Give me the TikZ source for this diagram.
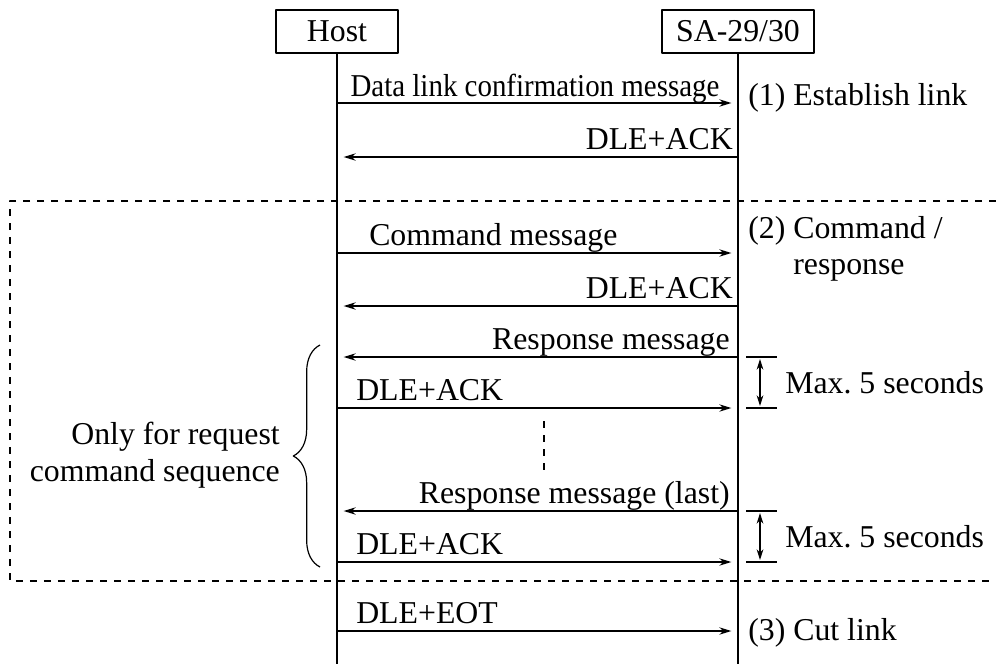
\documentclass[tikz,border=0pt]{standalone}
\usepackage{graphicx}
\usepackage{fontspec}
\setmainfont{Liberation Serif}
\usetikzlibrary{arrows.meta,decorations.pathreplacing}
\begin{document}
\begin{tikzpicture}[x=0.75pt,y=-0.75pt,line join=round,font=\fontsize{23.85}{27.5}\selectfont,
	party/.style={draw,line width=1.1pt,minimum height=32pt,inner sep=0pt},
	life/.style={line width=2.1pt},
	msg/.style={line width=0.9pt,-{Stealth[length=9pt,width=5.5pt]},shorten >=5pt},
	lbl/.style={inner sep=0pt},
	frame/.style={line width=0.8pt,dash pattern=on 5pt off 5.5pt}]
	\useasboundingbox (0,0) rectangle (996,664);
	\node[party,minimum width=91.5pt] (host) at (337,31.5) {Host};
	\node[party,minimum width=114pt] (sa) at (738,31.5) {SA-29/30};
	\coordinate (hostend) at (337,664);
	\coordinate (saend) at (738,664);
	\draw[life] (host.south)--(hostend);
	\draw[life] (sa.south)--(saend);
	% message rows
	\foreach \n/\y in {1/103,2/157,3/253,4/306,5/357,6/408,7/511,8/562,9/631}{
		\coordinate (h\n) at (337,\y);
		\coordinate (s\n) at (738,\y);}
	\foreach \n in {1,3,6,8,9} \draw[msg] (h\n)--(s\n);
	\foreach \n in {2,4,5,7} \draw[msg] (s\n)--(h\n);
	\node[lbl,anchor=base] (m1) at (535,96) {\scalebox{0.91}[1]{Data link confirmation message}};
	\node[lbl,anchor=base east] (m2) at (733,149) {DLE+ACK};
	\node[lbl,anchor=base west] (m3) at (369,245) {Command message};
	\node[lbl,anchor=base east] (m4) at (733,298) {DLE+ACK};
	\node[lbl,anchor=base east] (m5) at (730,349) {Response message};
	\node[lbl,anchor=base west] (m6) at (356,400) {DLE+ACK};
	\node[lbl,anchor=base east] (m7) at (730,503) {Response message (last)};
	\node[lbl,anchor=base west] (m8) at (356,554) {DLE+ACK};
	\node[lbl,anchor=base west] (m9) at (356,623) {DLE+EOT};
	% phases
	\node[lbl,anchor=base west] (p1) at (748,105) {(1) Establish link};
	\node[lbl,anchor=west,align=left] (p2) at (748,249) {(2) Command /\\\hphantom{(2) }response};
	\node[lbl,anchor=west] (p3) at (748,633) {(3) Cut link};
	% timeouts
	\foreach \a/\b in {357/408,511/562}{
		\draw[line width=0.9pt] (746,\a)--(777,\a) (746,\b)--(777,\b);
		\draw[line width=0.9pt,{Stealth[length=8pt,width=5pt]}-{Stealth[length=8pt,width=5pt]}] (760,\a+2)--(760,\b-2);
		\node[lbl,anchor=west] at (785,{(\a+\b)/2}) {Max.\ 5 seconds};}
	% request sequence
	\draw[line width=0.9pt,decorate,decoration={brace,amplitude=20pt}] (320,567)--(320,345);
	\node[lbl,anchor=east,align=right] (note) at (280,455) {Only for request\\command sequence};
	\draw[frame] (996,201)--(10,201)--(10,581)--(996,581);
	\draw[frame] (544,421)--(544,472);
\end{tikzpicture}
\end{document}
